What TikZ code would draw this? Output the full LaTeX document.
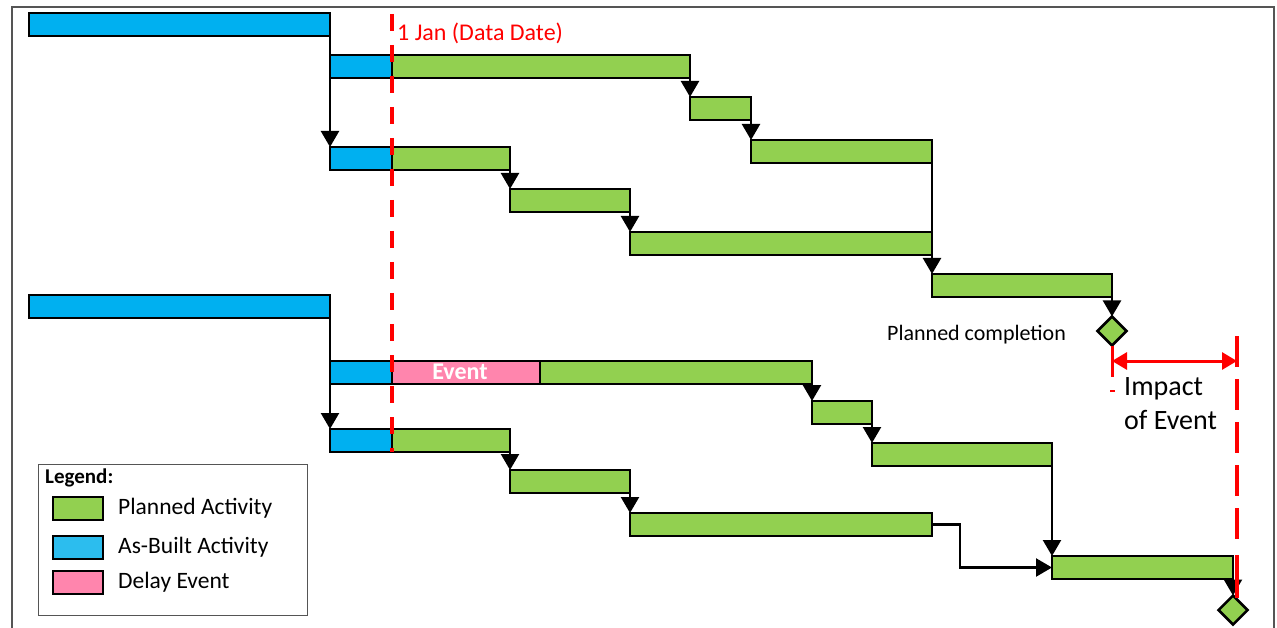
\documentclass[tikz,border=0pt]{standalone}
\usepackage{fontspec}
\setmainfont{Carlito}
\usetikzlibrary{arrows.meta,shapes.geometric}
\definecolor{pgreen}{HTML}{92D050}
\definecolor{ablue}{HTML}{00B0F0}
\definecolor{lblue}{HTML}{2CBDEE}
\definecolor{dpink}{HTML}{FF85AD}
\definecolor{frame}{HTML}{555555}
\tikzset{
  bar/.style={rectangle, draw=black, line width=2pt, inner sep=0pt, outer sep=0pt, minimum height=23pt, anchor=west},
  gbar/.style={bar, fill=pgreen},
  bbar/.style={bar, fill=ablue},
  ebar/.style={bar, fill=dpink},
  arr/.style={draw=black, line width=2.3pt, -{Triangle[width=18pt,length=16pt]}},
  mile/.style={diamond, draw=black, line width=2.5pt, fill=pgreen, inner sep=0pt, outer sep=0pt, minimum width=29pt, minimum height=29pt},
  redline/.style={draw=red, line width=3.5pt},
  swatch/.style={rectangle, draw=black, line width=2pt, inner sep=0pt, outer sep=0pt, minimum width=50pt, minimum height=23pt, anchor=west},
  legtext/.style={anchor=west, inner sep=0pt, font=\fontsize{23.5}{27}\selectfont}
}
\begin{document}
\begin{tikzpicture}[x=1pt,y=-1pt]
\useasboundingbox[fill=white] (0,0) rectangle (1277,628);
% frame
\draw[frame, line width=1.8pt] (12,628) -- (12,7) -- (1274,7) -- (1274,628);

% ---- upper programme ----
\node[bbar, line width=2.5pt, minimum width=301pt] (a1) at (29,24.5) {};
\node[bbar, minimum width=62pt] (a2b) at (330,66.5) {};
\node[gbar, minimum width=298pt] (a2g) at (392,66.5) {};
\node[bbar, minimum width=62pt] (a3b) at (330,158.5) {};
\node[gbar, minimum width=118pt] (a3g) at (392,158.5) {};
\node[gbar, minimum width=61pt] (b) at (690,108.5) {};
\node[gbar, minimum width=181pt] (c) at (751,151.5) {};
\node[gbar, minimum width=120pt] (d) at (510,200.5) {};
\node[gbar, minimum width=302pt] (e) at (630,243.5) {};
\node[gbar, minimum width=180pt] (f) at (932,285.5) {};
\node[mile] (pd) at (1112,331) {};

\draw[arr] (a1.south east) -- (a3b.north west);
\draw[arr] (a2g.south east) -- (b.north west);
\draw[arr] (b.south east) -- (c.north west);
\draw[arr] (a3g.south east) -- (d.north west);
\draw[arr] (d.south east) -- (e.north west);
\draw[arr] (c.south east) -- (f.north west);
\draw[arr] (f.south east) -- (pd.north);

\node[anchor=west, inner sep=0pt, font=\fontsize{22}{26}\selectfont] (pclabel) at (887,335) {Planned completion};

% ---- lower programme ----
\node[bbar, line width=2.5pt, minimum width=301pt] (g1) at (29,306.5) {};
\node[bbar, minimum width=62pt] (g2b) at (330,372) {};
\node[ebar, minimum width=148pt] (g2e) at (392,372) {};
\node[text=white, inner sep=0pt, font=\bfseries\fontsize{24}{28}\selectfont] (evt) at (460,372) {Event};
\node[gbar, minimum width=272pt] (g2g) at (540,372) {};
\node[bbar, minimum width=62pt] (g3b) at (330,440.5) {};
\node[gbar, minimum width=118pt] (g3g) at (392,440.5) {};
\node[gbar, minimum width=60pt] (h) at (812,412.5) {};
\node[gbar, minimum width=180pt] (i) at (872,454.5) {};
\node[gbar, minimum width=120pt] (j) at (510,481.5) {};
\node[gbar, minimum width=302pt] (k) at (630,524.5) {};
\node[gbar, minimum width=181pt] (l) at (1052,567.5) {};
\node[mile] (d2) at (1233,610) {};

\draw[arr] (g1.south east) -- (g3b.north west);
\draw[arr] (g2g.south east) -- (h.north west);
\draw[arr] (h.south east) -- (i.north west);
\draw[arr] (g3g.south east) -- (j.north west);
\draw[arr] (j.south east) -- (k.north west);
\draw[arr] (i.south east) -- (l.north west);
\draw[arr] (k.east) -- ++(28,0) |- (l.west);
\draw[arr] (l.south east) -- (d2.north);

% ---- data date ----
\coordinate (ddtop) at (392,14);
\coordinate (ddbot) at (392,452);
\draw[redline, dash pattern=on 17pt off 14pt] (ddtop) -- (ddbot);
\node[anchor=west, inner sep=0pt, text=red, font=\fontsize{24}{28}\selectfont] (ddlabel) at (397,33) {1 Jan (Data Date)};

% ---- impact of event ----
\coordinate (il1) at (1112,346);
\coordinate (il2) at (1112,377);
\draw[redline, line width=3pt] (il1) -- (il2);
\draw[red, line width=1.5pt] (1110,391) -- (1115,391);
\coordinate (ir1) at (1237,336);
\coordinate (ir2) at (1237,543);
\coordinate (ir3) at (1237,555);
\coordinate (ir4) at (1237,598);
\draw[redline, dash pattern=on 31pt off 12pt] (ir1) -- (ir2);
\draw[redline] (ir3) -- (ir4);
\coordinate (ia) at (1112,361);
\coordinate (ib) at (1237,361);
\draw[draw=red, line width=3pt, {Triangle[width=17pt,length=15pt]}-{Triangle[width=17pt,length=15pt]}, fill=red] (ia) -- (ib);
\node[anchor=west, align=left, inner sep=0pt, font=\fontsize{28}{34}\selectfont] (impact) at (1124,404) {Impact\\of Event};

% ---- legend ----
\node[rectangle, draw=frame, line width=1pt, inner sep=0pt, minimum width=269pt, minimum height=151pt, anchor=north west] (legend) at (38,464) {};
\node[anchor=west, inner sep=0pt, font=\bfseries\fontsize{21}{25}\selectfont] (legtitle) at (45,478) {Legend:};
\node[swatch, fill=pgreen] (sw1) at (53,508.5) {};
\node[swatch, fill=lblue] (sw2) at (53,547) {};
\node[swatch, fill=dpink] (sw3) at (53,582) {};
\node[legtext] (lt1) at (118,508.5) {Planned Activity};
\node[legtext] (lt2) at (118,547) {As-Built Activity};
\node[legtext] (lt3) at (118,582) {Delay Event};
\end{tikzpicture}
\end{document}
